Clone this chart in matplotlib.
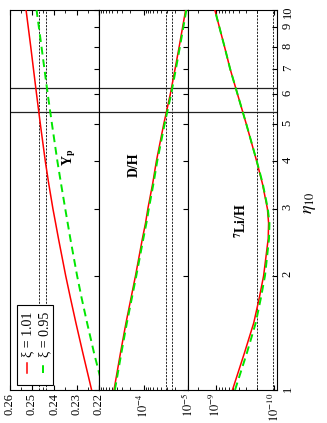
import numpy as np
import matplotlib.pyplot as plt
from matplotlib.patches import Rectangle
from matplotlib.ticker import LogLocator, NullFormatter, NullLocator

plt.rcParams['font.family'] = ['Liberation Serif', 'DejaVu Serif']
plt.rcParams['mathtext.fontset'] = 'stix'

# eta_10 grid
eta = [1.0, 1.25, 1.5, 1.75, 2.0, 2.5, 2.75, 3.0, 3.5, 4.0, 5.0, 6.0, 7.0, 8.0, 10.0]

# helium mass fraction
yp_101 = [0.2233, 0.2272, 0.2303, 0.2328, 0.2349, 0.2381, 0.2394, 0.2406, 0.2425, 0.2440, 0.2462, 0.2479, 0.2493, 0.2505, 0.2526]
yp_095 = [0.2180, 0.2222, 0.2253, 0.2278, 0.2298, 0.2328, 0.2340, 0.2351, 0.2370, 0.2386, 0.2410, 0.2429, 0.2444, 0.2457, 0.2479]

# deuterium
dh_101 = [4.6e-4, 3.3e-4, 2.48e-4, 1.90e-4, 1.51e-4, 1.06e-4, 9.0e-5, 7.98e-5, 6.2e-5, 5.14e-5, 3.52e-5, 2.5e-5, 1.95e-5, 1.58e-5, 1.13e-5]
dh_095 = [4.4e-4, 3.15e-4, 2.37e-4, 1.82e-4, 1.45e-4, 1.01e-4, 8.6e-5, 7.6e-5, 5.95e-5, 4.92e-5, 3.37e-5, 2.4e-5, 1.87e-5, 1.52e-5, 1.09e-5]

# lithium-7
li_101 = [5.2e-10, 3.25e-10, 2.25e-10, 1.80e-10, 1.52e-10, 1.27e-10, 1.25e-10, 1.31e-10, 1.6e-10, 2.0e-10, 3.0e-10, 4.25e-10, 5.7e-10, 7.1e-10, 1.04e-9]
li_095 = [4.7e-10, 2.95e-10, 2.08e-10, 1.69e-10, 1.44e-10, 1.23e-10, 1.21e-10, 1.29e-10, 1.58e-10, 1.99e-10, 3.0e-10, 4.25e-10, 5.7e-10, 7.1e-10, 1.04e-9]

# observational bands and eta range
yp_band = [0.2437, 0.2467]
dh_band = [2.32e-5, 3.17e-5]
li_band = [1.04e-10, 2.0e-10]
eta_band = [5.38, 6.22]

eta_ticks = [1, 2, 3, 4, 5, 6, 7, 8, 9, 10]

W, H = 327., 423.
fig = plt.figure(figsize=(3.27, 4.23), dpi=100)


def box(x0, x1):
    return [x0 / W, 1 - 390 / H, (x1 - x0) / W, 380 / H]


ax1 = fig.add_axes(box(9.5, 99))
ax2 = fig.add_axes(box(99, 188), sharey=ax1)
ax3 = fig.add_axes(box(188, 277.5), sharey=ax1)

red = '#ff0000'
green = '#00e600'

for ax, a, b, band in [(ax1, yp_101, yp_095, yp_band),
                       (ax2, dh_101, dh_095, dh_band),
                       (ax3, li_101, li_095, li_band)]:
    for v in band:
        ax.axvline(v, color='k', lw=0.6, ls=(0, (2.5, 1.5)), zorder=1)
    for e in eta_band:
        ax.axhline(e, color='#222222', lw=0.9, zorder=1)
    ax.plot(a, eta, color=red, lw=1.1, zorder=3)
    ax.plot(b, eta, color=green, lw=1.4, ls=(0, (4, 2.5)), zorder=3)
    for s in ax.spines.values():
        s.set_linewidth(0.8)
    ax.tick_params(axis='x', which='both', direction='in', top=True, bottom=True,
                   labelsize=9, pad=2)
    ax.tick_params(axis='x', which='major', length=3.5, labelrotation=90)
    ax.tick_params(axis='x', which='minor', length=2.2)
    ax.tick_params(axis='y', which='both', direction='in', left=False, right=True,
                   labelleft=False, labelright=False, length=3.5)

ax1.set_yscale('log')
ax1.set_ylim(1, 10)
ax1.set_yticks(eta_ticks)
ax1.yaxis.set_minor_locator(NullLocator())
ax3.tick_params(axis='y', labelright=True, labelsize=9, labelrotation=90, pad=3)
ax3.set_yticklabels([str(t) for t in eta_ticks])

# Yp panel
ax1.set_xlim(0.26, 0.22)
ax1.set_xticks([0.26, 0.25, 0.24, 0.23, 0.22], ['0.26', '0.25', '0.24', '0.23', '0.22'])
ax1.set_xticks([0.255, 0.245, 0.235, 0.225], minor=True)

# D/H panel
ax2.set_xscale('log')
ax2.set_xlim(1e-3, 1e-5)
ax2.set_xticks([1e-3, 1e-4, 1e-5], ['', r'$10^{-4}$', r'$10^{-5}$'])
ax2.xaxis.set_minor_locator(LogLocator(base=10, subs=np.arange(2, 10)))
ax2.xaxis.set_minor_formatter(NullFormatter())

# Li/H panel
ax3.set_xscale('log')
ax3.set_xlim(3e-9, 8.8e-11)
ax3.set_xticks([1e-9, 1e-10], [r'$10^{-9}$', r'$10^{-10}$'])
ax3.xaxis.set_minor_locator(LogLocator(base=10, subs=np.arange(2, 10)))
ax3.xaxis.set_minor_formatter(NullFormatter())

# panel labels
ax1.text(0.665, 0.613, r'Y$_{\mathbf{p}}$', transform=ax1.transAxes, rotation=90,
         ha='center', va='center', fontsize=10, fontweight='bold')
ax2.text(0.40, 0.592, 'D/H', transform=ax2.transAxes, rotation=90,
         ha='center', va='center', fontsize=10, fontweight='bold')
ax3.text(0.59, 0.447, r'$^{\mathbf{7}}$Li/H', transform=ax3.transAxes, rotation=90,
         ha='center', va='center', fontsize=10, fontweight='bold')

# legend (rotated, drawn by hand)
ax1.add_patch(Rectangle((0.084, 0.013), 0.40, 0.211, transform=ax1.transAxes,
                        facecolor='white', edgecolor='k', lw=0.8, zorder=5))
ax1.plot([0.192, 0.192], [0.045, 0.072], transform=ax1.transAxes, color=red, lw=1.1, zorder=6)
ax1.plot([0.378, 0.378], [0.045, 0.072], transform=ax1.transAxes, color=green, lw=1.4,
         ls=(0, (4, 2.5)), zorder=6)
ax1.text(0.205, 0.087, 'ξ = 1.01', transform=ax1.transAxes, rotation=90,
         ha='center', va='bottom', fontsize=10, zorder=6)
ax1.text(0.395, 0.087, 'ξ = 0.95', transform=ax1.transAxes, rotation=90,
         ha='center', va='bottom', fontsize=10, zorder=6)

fig.text(310 / W, 1 - 203 / H, r'$\eta_{10}$', rotation=90, ha='center', va='center', fontsize=13)

fig.savefig('out.png', dpi=100)
